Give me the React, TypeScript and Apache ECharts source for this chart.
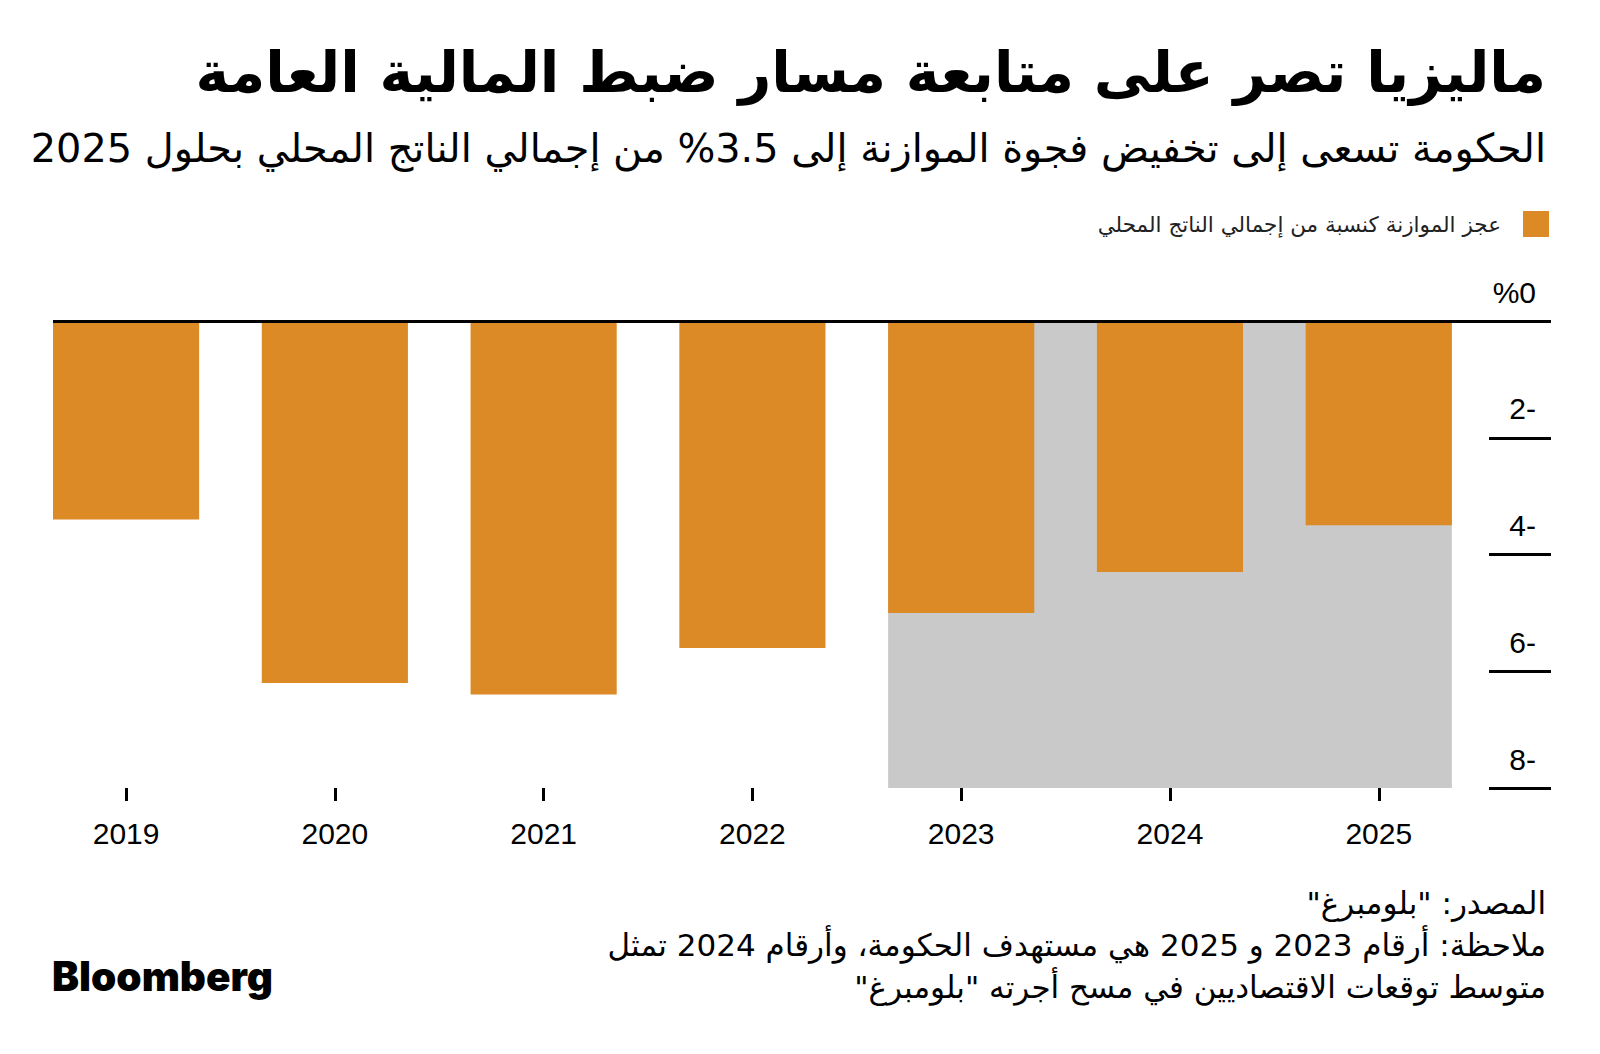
import React, { useEffect, useRef } from "react";
import * as echarts from "echarts";

// ---- data ----
const years: number[] = [2019, 2020, 2021, 2022, 2023, 2024, 2025];
const deficit: number[] = [-3.4, -6.2, -6.4, -5.6, -5.0, -4.3, -3.5];
const shadedYears: number[] = [2023, 2025]; // government targets / survey
const yMin = -8;
const yMax = 0;
const yStep = 2;

const RLM = "\u200F";
const titleText = "ماليزيا تصر على متابعة مسار ضبط المالية العامة";
const subtitleText =
  "الحكومة تسعى إلى تخفيض فجوة الموازنة إلى 3.5% من إجمالي الناتج المحلي بحلول 2025";
const seriesName = "عجز الموازنة كنسبة من إجمالي الناتج المحلي";
const footerLines: string[] = [
  'المصدر: "بلومبرغ"' + RLM,
  "ملاحظة: أرقام 2023 و 2025 هي مستهدف الحكومة، وأرقام 2024 تمثل",
  'متوسط توقعات الاقتصاديين في مسح أجرته "بلومبرغ"' + RLM,
];
const brand = "Bloomberg";

const ORANGE = "#DB8A25";
const GRAY = "#C9C9C9";
const BAR_RATIO = 0.7;
const ARABIC_FONT = "'DejaVu Sans', 'Noto Sans', sans-serif";
const NUM_FONT = "'Liberation Sans', Arial, sans-serif";

export default function App() {
  const ref = useRef<HTMLDivElement>(null);

  useEffect(() => {
    if (!ref.current) return;
    const chart = echarts.init(ref.current, null, { renderer: "svg" });
    const half = BAR_RATIO / 2;
    const option: any = {
      animation: false,
      backgroundColor: "#ffffff",
      grid: { left: 53, right: 49, top: 321, bottom: 266, containLabel: false },
      legend: {
        show: true,
        right: 51,
        top: 211,
        padding: 0,
        align: "right",
        itemWidth: 26,
        itemHeight: 26,
        icon: "rect",
        selectedMode: false,
        textStyle: {
          fontFamily: ARABIC_FONT,
          fontSize: 21.5,
          color: "#222",
          padding: [0, 17, 0, 0],
        },
        data: [seriesName],
      },
      xAxis: {
        type: "value",
        position: "bottom",
        min: years[0] - half,
        max: years[years.length - 1] + 0.825,
        axisLine: {
          show: true,
          onZero: false,
          lineStyle: { color: "rgba(0,0,0,0)", width: 0 },
        },
        splitLine: { show: false },
        axisTick: {
          show: true,
          customValues: years,
          length: 13,
          lineStyle: { color: "#000", width: 3 },
        },
        axisLabel: {
          show: true,
          customValues: years,
          formatter: (v: number) => String(v),
          fontFamily: NUM_FONT,
          fontSize: 30,
          color: "#000",
          margin: 30,
        },
      },
      yAxis: {
        type: "value",
        position: "right",
        min: yMin,
        max: yMax,
        interval: yStep,
        axisLine: { show: false },
        splitLine: { show: false },
        axisTick: {
          show: true,
          inside: true,
          length: 62,
          lineStyle: { color: "#000", width: 3 },
        },
        axisLabel: {
          show: true,
          inside: true,
          margin: 15,
          verticalAlign: "bottom",
          padding: [0, 0, 14, 0],
          fontFamily: NUM_FONT,
          fontSize: 30,
          color: "#000",
          formatter: (v: number) => (v === 0 ? "%0" : `${Math.abs(v)}-`),
        },
      },
      series: [
        {
          name: seriesName,
          type: "bar",
          barWidth: `${BAR_RATIO * 100}%`,
          itemStyle: { color: ORANGE },
          data: years.map((y, i) => [y, deficit[i]]),
          markArea: {
            silent: true,
            z: -1,
            itemStyle: { color: GRAY },
            data: [
              [
                { xAxis: shadedYears[0] - half, yAxis: yMax },
                { xAxis: shadedYears[1] + half, yAxis: yMin },
              ],
            ],
          },
          markLine: {
            silent: true,
            symbol: "none",
            label: { show: false },
            lineStyle: { color: "#000", width: 3, type: "solid" },
            data: [{ yAxis: 0 }],
          },
        },
      ],
      graphic: [
        {
          type: "text",
          x: 1546,
          y: 72,
          style: {
            text: titleText,
            textAlign: "right",
            textVerticalAlign: "middle",
            fontFamily: ARABIC_FONT,
            fontWeight: "bold",
            fontSize: 57,
            fill: "#000",
          },
        },
        {
          type: "text",
          x: 1546,
          y: 148,
          style: {
            text: subtitleText,
            textAlign: "right",
            textVerticalAlign: "middle",
            fontFamily: ARABIC_FONT,
            fontSize: 39.8,
            fill: "#000",
          },
        },
        ...footerLines.map((t, i) => ({
          type: "text",
          x: 1546,
          y: 903 + i * 42,
          style: {
            text: t,
            textAlign: "right",
            textVerticalAlign: "middle",
            fontFamily: ARABIC_FONT,
            fontSize: 31,
            fill: "#000",
          },
        })),
        {
          type: "text",
          x: 52,
          y: 976,
          style: {
            text: brand,
            textAlign: "left",
            textVerticalAlign: "middle",
            fontFamily: "Inter, 'Liberation Sans', sans-serif",
            fontWeight: 900,
            fontSize: 40.5,
            fill: "#000",
          },
        },
      ],
    };
    chart.setOption(option);
    return () => chart.dispose();
  }, []);

  return (
    <div
      ref={ref}
      style={{ position: "absolute", left: 0, top: 0, width: 1600, height: 1054 }}
    />
  );
}
